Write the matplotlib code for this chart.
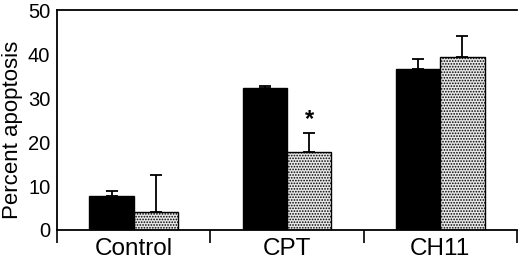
import matplotlib
matplotlib.use("Agg")
import matplotlib.pyplot as plt
import numpy as np

plt.rcParams['font.family'] = ['Liberation Sans', 'DejaVu Sans']
plt.rcParams['hatch.color'] = '#909090'
plt.rcParams['hatch.linewidth'] = 0.8

groups = ['Control', 'CPT', 'CH11']
black_vals = [7.7, 32.3, 36.5]
black_err = [1.2, 0.4, 2.3]
dot_vals = [4.1, 17.8, 39.4]
dot_err = [8.4, 4.2, 4.8]

x = np.arange(len(groups))
w = 0.29

fig = plt.figure(figsize=(5.2, 2.59), dpi=100)
ax = fig.add_axes([0.110, 0.112, 0.884, 0.849])

ax.bar(x - w / 2, black_vals, w, color='black', edgecolor='black', linewidth=1,
       yerr=[np.zeros(3), black_err], error_kw=dict(ecolor='black', elinewidth=1.3, capsize=4, capthick=1.3))
ax.bar(x + w / 2, dot_vals, w, color='#e8e8e8', edgecolor='black', linewidth=1,
       hatch='......', yerr=[np.zeros(3), dot_err],
       error_kw=dict(ecolor='black', elinewidth=1.3, capsize=4, capthick=1.3))

# significance mark
ax.text(x[1] + w / 2, dot_vals[1] + dot_err[1] + 0.6, '*', ha='center', va='bottom',
        fontsize=17, fontweight='bold')

ax.set_xlim(-0.5, 2.5)
ax.set_ylim(0, 50)
ax.set_yticks([0, 10, 20, 30, 40, 50])
ax.set_xticks(x)
ax.set_xticklabels(groups)
ax.set_xticks([-0.5, 0.5, 1.5, 2.5], minor=True)
ax.tick_params(axis='x', which='major', length=0, labelsize=17.5, pad=6)
ax.tick_params(axis='x', which='minor', length=9, width=1.2, direction='out')
ax.tick_params(axis='y', length=0, labelsize=14.5, pad=5)
ax.set_ylabel('Percent apoptosis', fontsize=16)
ax.yaxis.set_label_coords(-0.074, 0.455)

ax.spines['right'].set_visible(False)
for s in ['left', 'top', 'bottom']:
    ax.spines[s].set_linewidth(1.3)

fig.savefig('out.png', dpi=100)
